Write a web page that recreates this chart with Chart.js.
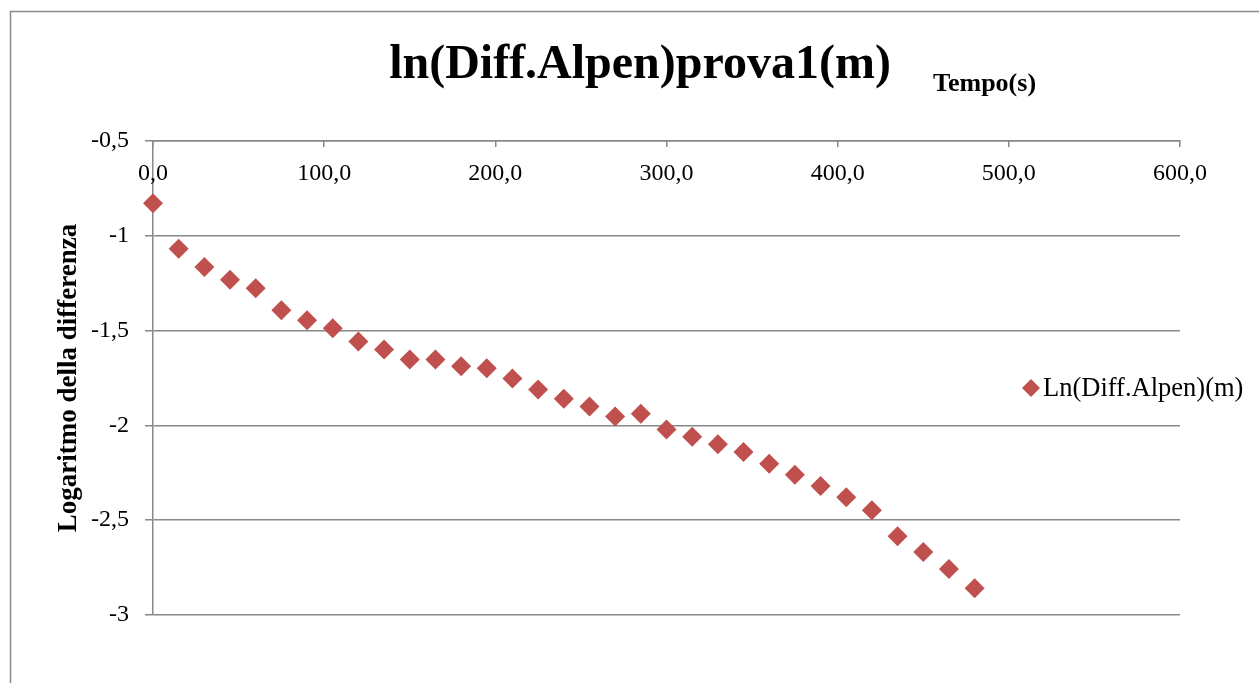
<!DOCTYPE html>
<html>
<head>
<meta charset="utf-8">
<script src="https://cdn.jsdelivr.net/npm/chart.js@4"></script>
<style>
  html, body { margin: 0; padding: 0; background: #fff; }
  #wrap { position: relative; width: 1259px; height: 683px; }
</style>
</head>
<body>
<div id="wrap"><canvas id="chart"></canvas></div>
<script>
// ==========================================
// DATA
// ==========================================
const tempo = [0, 15, 30, 45, 60, 75, 90, 105, 120, 135, 150, 165, 180, 195, 210, 225,
               240, 255, 270, 285, 300, 315, 330, 345, 360, 375, 390, 405, 420, 435, 450, 465, 480];
const lnDiff = [-0.828, -1.068, -1.165, -1.232, -1.277, -1.393, -1.446, -1.488, -1.558, -1.600,
                -1.653, -1.653, -1.688, -1.698, -1.753, -1.810, -1.859, -1.900, -1.953, -1.938,
                -2.021, -2.060, -2.100, -2.140, -2.202, -2.260, -2.319, -2.379, -2.447, -2.584,
                -2.668, -2.758, -2.859];
const xTicks = [0, 100, 200, 300, 400, 500, 600];
const yTicks = [-3, -2.5, -2, -1.5, -1, -0.5];

const chartTitle = 'ln(Diff.Alpen)prova1(m)';
const xTitle = 'Tempo(s)';
const yTitle = 'Logaritmo della differenza';
const seriesName = 'Ln(Diff.Alpen)(m)';

const SERIF = '"Liberation Serif", "Times New Roman", serif';
const RED = '#C0504D';
const GRAY = '#888888';

// ==========================================
// EXTRA DRAWING: frame, titles, x labels, legend
// ==========================================
const decorations = {
    id: 'decorations',
    afterDraw(chart) {
        const ctx = chart.ctx;
        const area = chart.chartArea;
        const xScale = chart.scales.x;
        ctx.save();

        // outer frame (only top + left visible in the picture)
        ctx.strokeStyle = '#8a8a8a';
        ctx.lineWidth = 1.5;
        ctx.strokeRect(10.5, 11.5, 1400, 800);

        // main title
        ctx.fillStyle = '#000';
        ctx.textAlign = 'center';
        ctx.textBaseline = 'alphabetic';
        ctx.font = 'bold 48px ' + SERIF;
        ctx.fillText(chartTitle, 640, 78);

        // x axis title sits next to the main title
        ctx.textAlign = 'left';
        ctx.font = 'bold 26px ' + SERIF;
        ctx.fillText(xTitle, 933, 91);

        // x tick labels sit below the top axis line, inside the plot
        ctx.textAlign = 'center';
        ctx.textBaseline = 'middle';
        ctx.font = '24px ' + SERIF;
        xScale.ticks.forEach(t => {
            ctx.fillText(t.label, xScale.getPixelForValue(t.value), area.top + 33);
        });

        // legend, overlapping the right of the plot
        const ly = area.top + (area.bottom - area.top) / 2 + 10;
        const lx = 1031;
        ctx.fillStyle = RED;
        ctx.beginPath();
        ctx.moveTo(lx, ly - 9);
        ctx.lineTo(lx + 9, ly);
        ctx.lineTo(lx, ly + 9);
        ctx.lineTo(lx - 9, ly);
        ctx.closePath();
        ctx.fill();
        ctx.fillStyle = '#000';
        ctx.textAlign = 'left';
        ctx.font = '26.5px ' + SERIF;
        ctx.fillText(seriesName, 1043, ly + 1);

        ctx.restore();
    }
};

// ==========================================
// CHART
// ==========================================
const ctx = document.getElementById('chart').getContext('2d');
new Chart(ctx, {
    type: 'scatter',
    data: {
        datasets: [{
            label: seriesName,
            data: tempo.map((t, i) => ({ x: t, y: lnDiff[i] })),
            pointStyle: 'rectRot',
            pointRadius: 10,
            pointBorderWidth: 0,
            backgroundColor: RED,
            borderColor: RED,
            clip: false
        }]
    },
    options: {
        responsive: true,
        maintainAspectRatio: false,
        animation: false,
        layout: { padding: { top: 0, left: 0, right: 79, bottom: 68 } },
        plugins: {
            legend: { display: false },
            title: { display: false },
            tooltip: { enabled: false }
        },
        scales: {
            x: {
                type: 'linear',
                position: 'top',
                min: 0,
                max: 600,
                afterFit: (scale) => { scale.height = 141; },
                afterBuildTicks: (scale) => { scale.ticks = xTicks.map(v => ({ value: v })); },
                ticks: {
                    display: false,
                    callback: (v) => Number(v).toFixed(1).replace('.', ',')
                },
                grid: { drawOnChartArea: false, drawTicks: true, tickLength: -6, color: GRAY, lineWidth: 1.5 },
                border: { color: GRAY, width: 1.5 }
            },
            y: {
                type: 'linear',
                min: -3,
                max: -0.5,
                afterFit: (scale) => { scale.width = 153; },
                afterBuildTicks: (scale) => { scale.ticks = yTicks.map(v => ({ value: v })); },
                ticks: {
                    color: '#000',
                    font: { family: SERIF, size: 24 },
                    padding: 16,
                    callback: (v) => String(v).replace('.', ',')
                },
                grid: { color: GRAY, lineWidth: 1.5, tickLength: 8 },
                border: { color: GRAY, width: 1.5 },
                title: {
                    display: true,
                    text: yTitle,
                    color: '#000',
                    font: { family: SERIF, size: 27, weight: 'bold' },
                    padding: { top: 53, bottom: 0 }
                }
            }
        }
    },
    plugins: [decorations]
});
</script>
</body>
</html>
